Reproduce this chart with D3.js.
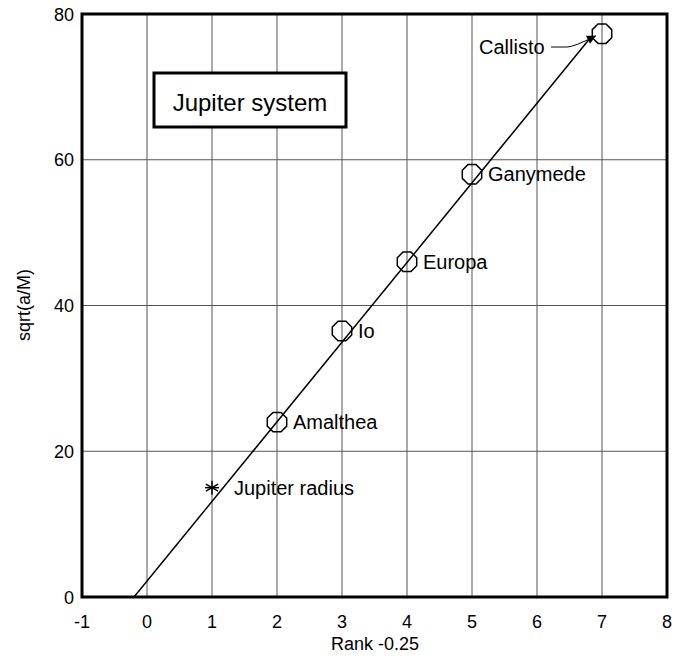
<!DOCTYPE html>
<html lang="en">
<head>
<meta charset="UTF-8">
<title>Jupiter system</title>
<script src="https://d3js.org/d3.v7.min.js"></script>
<style>
    body { margin: 0; background: #fff; font-family: "Liberation Sans", Arial, sans-serif; }
    .grid line { stroke: #555; stroke-width: 1px; }
    .tick { font-size: 18px; fill: #000; }
    .lbl { font-size: 20px; fill: #000; }
</style>
</head>
<body>
<svg id="chart" width="683" height="662"></svg>
<script>
// data
const moons = ["Amalthea", "Io", "Europa", "Ganymede", "Callisto"];
const rank = [2, 3, 4, 5, 7];
const sqrtAM = [24, 36.5, 46, 58, 77.3];
const radiusPoint = [1, 15];
const fitLine = [[-0.2, 0], [6.8, 76.5]];
const xTicks = [-1, 0, 1, 2, 3, 4, 5, 6, 7, 8];
const yTicks = [0, 20, 40, 60, 80];

const svg = d3.select('#chart');
const pLeft = 82, pRight = 667, pTop = 14, pBottom = 597;

const x = d3.scaleLinear().domain([-1, 8]).range([pLeft, pRight]);
const y = d3.scaleLinear().domain([0, 80]).range([pBottom, pTop]);

// grid
const grid = svg.append('g').attr('class', 'grid');
grid.selectAll('.vx').data(xTicks.slice(1, -1)).enter().append('line')
    .attr('x1', d => x(d)).attr('x2', d => x(d))
    .attr('y1', pTop).attr('y2', pBottom);
grid.selectAll('.hy').data(yTicks.slice(1, -1)).enter().append('line')
    .attr('y1', d => y(d)).attr('y2', d => y(d))
    .attr('x1', pLeft).attr('x2', pRight);

// tick labels
svg.selectAll('.xt').data(xTicks).enter().append('text')
    .attr('class', 'tick')
    .attr('x', d => x(d)).attr('y', 628)
    .attr('text-anchor', 'middle')
    .text(d => d);
svg.selectAll('.yt').data(yTicks).enter().append('text')
    .attr('class', 'tick')
    .attr('x', 74).attr('y', d => y(d) + 6.5)
    .attr('text-anchor', 'end')
    .text(d => d);

// axis titles
svg.append('text').attr('class', 'tick')
    .attr('x', 375).attr('y', 650)
    .attr('text-anchor', 'middle')
    .text('Rank -0.25');
svg.append('text').attr('class', 'tick')
    .attr('transform', 'translate(30,305) rotate(-90)')
    .attr('text-anchor', 'middle')
    .text('sqrt(a/M)');

// fit line
svg.append('line')
    .attr('x1', x(fitLine[0][0])).attr('y1', y(fitLine[0][1]))
    .attr('x2', x(fitLine[1][0])).attr('y2', y(fitLine[1][1]))
    .attr('stroke', '#000').attr('stroke-width', 1.5);

// octagon markers
const r = 10.5;
const oct = d3.range(8).map(i => {
    const a = Math.PI / 8 + i * Math.PI / 4;
    return [r * Math.cos(a), r * Math.sin(a)];
});
const pts = moons.map((m, i) => ({ name: m, x: rank[i], y: sqrtAM[i] }));
svg.selectAll('.moon').data(pts).enter().append('polygon')
    .attr('points', oct.map(p => p.join(',')).join(' '))
    .attr('transform', d => `translate(${x(d.x)},${y(d.y)})`)
    .attr('fill', 'none').attr('stroke', '#000').attr('stroke-width', 1.5);

svg.selectAll('.mlbl').data(pts.slice(0, 4)).enter().append('text')
    .attr('class', 'lbl')
    .attr('x', d => x(d.x) + 16).attr('y', d => y(d.y) + 7)
    .text(d => d.name);

// Callisto label with leader arrow
const cx = x(7), cy = y(77.3);
svg.append('text').attr('class', 'lbl')
    .attr('x', 479).attr('y', 54)
    .text('Callisto');
svg.append('defs').append('marker')
    .attr('id', 'ah').attr('viewBox', '0 0 10 10')
    .attr('refX', 10).attr('refY', 5)
    .attr('markerWidth', 15).attr('markerHeight', 9)
    .attr('markerUnits', 'userSpaceOnUse')
    .attr('orient', 'auto')
    .append('path').attr('d', 'M0,0 L10,5 L0,10 Z').attr('fill', '#000');
svg.append('path')
    .attr('d', `M551,47 L567,47 Q574,47 ${cx - 6},${cy + 2}`)
    .attr('fill', 'none').attr('stroke', '#000').attr('stroke-width', 1)
    .attr('marker-end', 'url(#ah)');

// Jupiter radius star
const sx = x(radiusPoint[0]), sy = y(radiusPoint[1]);
const star = svg.append('g').attr('transform', `translate(${sx},${sy})`)
    .attr('stroke', '#000').attr('stroke-width', 1.5);
[0, 60, 120].forEach(a => {
    const rad = a * Math.PI / 180;
    star.append('line')
        .attr('x1', -7 * Math.sin(rad)).attr('y1', -7 * Math.cos(rad))
        .attr('x2', 7 * Math.sin(rad)).attr('y2', 7 * Math.cos(rad));
});
star.append('line').attr('x1', -7).attr('x2', 7).attr('y1', 0).attr('y2', 0);
svg.append('text').attr('class', 'lbl')
    .attr('x', sx + 22).attr('y', sy + 7)
    .text('Jupiter radius');

// legend box
svg.append('rect')
    .attr('x', 154).attr('y', 73).attr('width', 192).attr('height', 54)
    .attr('fill', '#fff').attr('stroke', '#000').attr('stroke-width', 3);
svg.append('text')
    .attr('x', 250).attr('y', 111)
    .attr('text-anchor', 'middle')
    .attr('font-size', 24)
    .text('Jupiter system');

// frame
svg.append('rect')
    .attr('x', pLeft).attr('y', pTop)
    .attr('width', pRight - pLeft).attr('height', pBottom - pTop)
    .attr('fill', 'none').attr('stroke', '#000').attr('stroke-width', 3);
</script>
</body>
</html>
